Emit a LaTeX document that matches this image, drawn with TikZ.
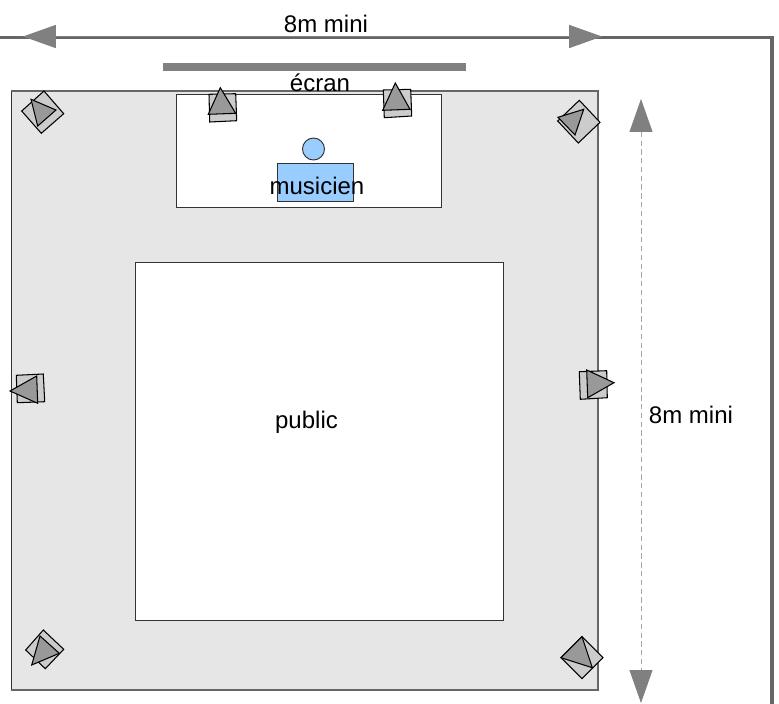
\documentclass[tikz,border=0pt]{standalone}
\usepackage{fontspec}
\setmainfont{Liberation Sans}
\usetikzlibrary{arrows.meta}
\definecolor{wallgray}{RGB}{102, 102, 102}
\definecolor{arrowgray}{RGB}{128, 128, 128}
\definecolor{roomgray}{RGB}{230, 230, 230}
\definecolor{boxgray}{RGB}{204, 204, 204}
\definecolor{tipgray}{RGB}{153, 153, 153}
\definecolor{musicblue}{RGB}{153, 204, 255}
\tikzset{
  label/.style={font=\fontsize{13.66}{16}\selectfont, text=black, inner sep=0pt},
  zone/.style={draw=black!80, line width=0.55pt},
  speakerbox/.style={draw=black, fill=boxgray, line width=0.6pt},
  speakertip/.style={draw=black, fill=tipgray, line width=0.6pt},
  dimarrow/.style={arrowgray, {Triangle[length=0.66cm, width=0.46cm, color=arrowgray]}-{Triangle[length=0.66cm, width=0.46cm, color=arrowgray]}}
}

\begin{document}
\begin{tikzpicture}[x=0.02cm, y=-0.02cm]
  \useasboundingbox (0, 0) rectangle (779, 704);

  % Walls of the hall
  \coordinate (wallstart) at (0, 37.5);
  \coordinate (wallcorner) at (772, 37.5);
  \coordinate (wallend) at (772, 704);
  \draw[wallgray, line width=2.1pt] (wallstart) -- (wallcorner) -- (wallend);

  % Room, stage and audience
  \fill[roomgray] (11, 91) rectangle (598, 690);
  \draw[zone] (11, 91) rectangle (598, 690);
  \draw[wallgray, line width=1pt] (11, 690) -- (598, 690) -- (598, 91) -- (11, 91);
  \draw[zone, fill=white] (176, 94) rectangle (441, 207);
  \draw[zone, fill=white] (135, 262) rectangle (503, 620);

  % Screen
  \fill[arrowgray] (163, 63) rectangle (466, 71);

  % Musician
  \draw[zone, fill=musicblue] (277, 163.5) rectangle (353, 201.7);
  \node[draw=black!80, fill=musicblue, circle, minimum size=0.44cm, inner sep=0pt, line width=0.55pt] (head) at (313.5, 149) {};

  % Speakers, box first and then the horn
  \draw[speakerbox] (44, 91) -- (63.7, 113.7) -- (41.3, 133.3) -- (21.7, 111) -- cycle;
  \draw[speakertip] (31, 99.3) -- (56, 110) -- (37.7, 126) -- cycle;

  \draw[speakerbox] (209, 94.3) -- (235.7, 93.7) -- (236.7, 120.7) -- (209.7, 122) -- cycle;
  \draw[speakertip] (220.3, 87.7) -- (235.7, 113.3) -- (208.3, 114.3) -- cycle;

  \draw[speakerbox] (383.3, 90) -- (410.7, 89.3) -- (411.7, 116) -- (384.3, 117.7) -- cycle;
  \draw[speakertip] (395.3, 83) -- (410, 109.3) -- (382.7, 110.3) -- cycle;

  \draw[speakerbox] (579.3, 100.3) -- (600, 122.3) -- (578.3, 143) -- (557.7, 121) -- cycle;
  \draw[speakertip] (583.7, 109.3) -- (575, 135) -- (558, 117.3) -- cycle;

  \draw[speakerbox] (16.3, 375.3) -- (43.3, 374) -- (44.7, 401.7) -- (17.3, 402.7) -- cycle;
  \draw[speakertip] (10, 391) -- (36.7, 376) -- (37.7, 403.3) -- cycle;

  \draw[speakerbox] (579.3, 371.7) -- (606.7, 370.7) -- (607.3, 397.7) -- (580.3, 399.3) -- cycle;
  \draw[speakertip] (614, 382.7) -- (587.7, 397.7) -- (586.7, 370) -- cycle;

  \draw[speakerbox] (43.3, 630) -- (63.7, 649.3) -- (45.3, 668.7) -- (25.7, 650) -- cycle;
  \draw[speakertip] (40, 636) -- (59.3, 653.3) -- (31.7, 665) -- cycle;

  \draw[speakerbox] (582, 636.7) -- (603, 657.7) -- (582, 678.7) -- (561, 657.7) -- cycle;
  \draw[speakertip] (582, 636.7) -- (592.3, 667.7) -- (561, 657.7) -- cycle;

  % Minimum dimensions
  \coordinate (widthleft) at (23, 36.5);
  \coordinate (widthright) at (602, 36.5);
  \coordinate (depthtop) at (641, 99);
  \coordinate (depthbottom) at (641, 703);
  \draw[dimarrow, line width=1pt] (widthleft) -- (widthright);
  \draw[dimarrow, line width=0.5pt, dash pattern=on 3pt off 2pt, draw=arrowgray!70] (depthtop) -- (depthbottom);

  % Labels
  \node[label] (widthlabel) at (326, 24) {8m mini};
  \node[label] (screenlabel) at (320, 83) {écran};
  \node[label] (musicianlabel) at (317, 186) {musicien};
  \node[label] (publiclabel) at (306.5, 422.5) {public};
  \node[label] (depthlabel) at (691, 415) {8m mini};
\end{tikzpicture}
\end{document}
